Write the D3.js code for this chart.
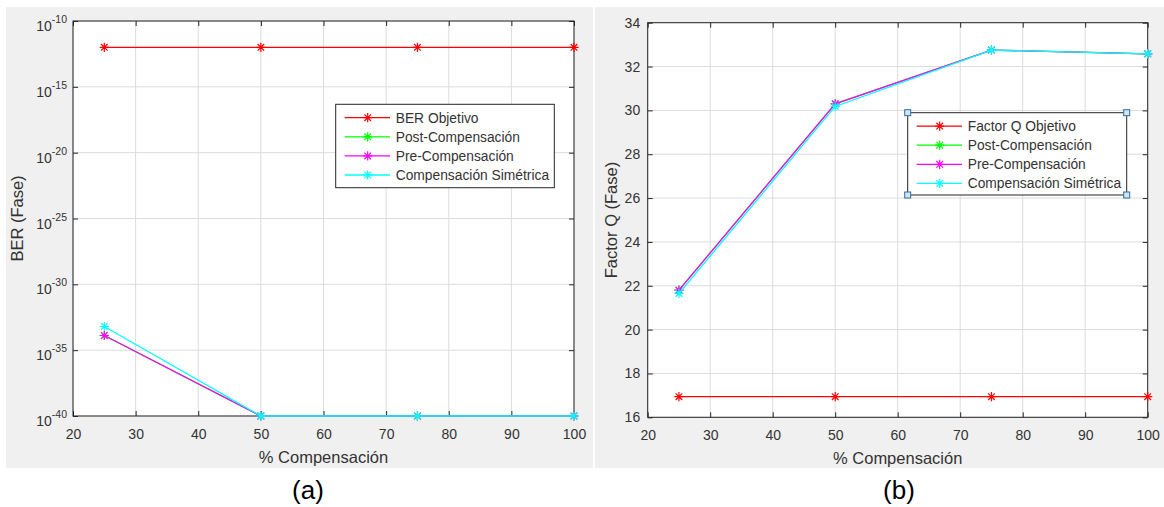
<!DOCTYPE html>
<html>
<head>
<meta charset="utf-8">
<script src="https://cdn.jsdelivr.net/npm/d3@7"></script>
<style>
  body { margin: 0; background: #fff; }
  text { font-family: "Liberation Sans", Arial, Helvetica, sans-serif; }
</style>
</head>
<body>
<svg id="fig" width="1164" height="507"></svg>
<script>
// ---- data ----
const compensacion = [25, 50, 75, 100];

const berObjetivo  = [1e-12, 1e-12, 1e-12, 1e-12];
const berPost      = [1.3e-34, 1e-40, 1e-40, 1e-40];
const berPre       = [1.3e-34, 1e-40, 1e-40, 1e-40];
const berSimetrica = [6.3e-34, 1e-40, 1e-40, 1e-40];

const qObjetivo  = [16.94, 16.94, 16.94, 16.94];
const qPost      = [21.8, 30.3, 32.75, 32.58];
const qPre       = [21.8, 30.3, 32.75, 32.58];
const qSimetrica = [21.65, 30.18, 32.75, 32.58];

const xTicks   = [20, 30, 40, 50, 60, 70, 80, 90, 100];
const berTicks = [1e-40, 1e-35, 1e-30, 1e-25, 1e-20, 1e-15, 1e-10];
const qTicks   = [16, 18, 20, 22, 24, 26, 28, 30, 32, 34];

const berLegend = ["BER Objetivo", "Post-Compensación", "Pre-Compensación", "Compensación Simétrica"];
const qLegend   = ["Factor Q Objetivo", "Post-Compensación", "Pre-Compensación", "Compensación Simétrica"];
const seriesColors = ["#ff0000", "#00ff00", "#ff00ff", "#00ffff"];

const xLabel = "% Compensación";
const berLabel = "BER (Fase)";
const qLabel = "Factor Q (Fase)";

// ---- drawing ----
const svg = d3.select("#fig");
const AXIS = "#262626", GRID = "#dcdcdc", TEXT = "#333333";

// figure backgrounds
svg.append("rect").attr("x", 6).attr("y", 7).attr("width", 587).attr("height", 461).attr("fill", "#f0f0f0");
svg.append("rect").attr("x", 595).attr("y", 7).attr("width", 569).attr("height", 461).attr("fill", "#f0f0f0");

function asterisk(r) {
  const k = r * 0.72;
  return `M${-r},0H${r}M0,${-r}V${r}M${-k},${-k}L${k},${k}M${-k},${k}L${k},${-k}`;
}

function drawPanel(opt) {
  const { x, y, yTicks, series, logY } = opt;
  const [x0, x1] = x.range();
  const [yb, yt] = y.range();
  const g = svg.append("g");

  g.append("rect").attr("x", x0).attr("y", yt).attr("width", x1 - x0).attr("height", yb - yt).attr("fill", "#fff");

  // grid
  g.append("g").selectAll("line").data(xTicks).join("line")
    .attr("x1", d => x(d)).attr("x2", d => x(d)).attr("y1", yt).attr("y2", yb)
    .attr("stroke", GRID).attr("stroke-width", 1);
  g.append("g").selectAll("line").data(yTicks).join("line")
    .attr("x1", x0).attr("x2", x1).attr("y1", d => y(d)).attr("y2", d => y(d))
    .attr("stroke", GRID).attr("stroke-width", 1);

  // axes with inward ticks on all four sides
  g.append("g").attr("transform", `translate(0,${yb})`)
    .call(d3.axisBottom(x).tickValues(xTicks).tickSize(-5).tickSizeOuter(0).tickPadding(13).tickFormat(d3.format("d")));
  g.append("g").attr("transform", `translate(0,${yt})`)
    .call(d3.axisTop(x).tickValues(xTicks).tickSize(-5).tickSizeOuter(0).tickFormat(""));
  g.append("g").attr("transform", `translate(${x0},0)`)
    .call(d3.axisLeft(y).tickValues(yTicks).tickSize(-5).tickSizeOuter(0).tickPadding(7.5)
      .tickFormat(logY ? "" : d3.format("d")));
  g.append("g").attr("transform", `translate(${x1},0)`)
    .call(d3.axisRight(y).tickValues(yTicks).tickSize(-5).tickSizeOuter(0).tickFormat(""));

  g.selectAll(".domain").remove();
  g.selectAll(".tick line").attr("stroke", AXIS);
  g.selectAll(".tick text").attr("fill", TEXT).style("font-size", "14px")
    .style("font-family", '"Liberation Sans", Arial, sans-serif');

  if (logY) {
    // 10^n labels with superscript exponent
    const lab = g.append("g").selectAll("text").data(yTicks).join("text")
      .attr("x", x0 - 6).attr("y", d => y(d) + 10)
      .attr("text-anchor", "end").attr("fill", TEXT).style("font-size", "14px");
    lab.append("tspan").text("10");
    lab.append("tspan").attr("dy", -8).style("font-size", "10.5px")
      .text(d => String(Math.round(Math.log10(d))));
  }

  g.append("rect").attr("x", x0).attr("y", yt).attr("width", x1 - x0).attr("height", yb - yt)
    .attr("fill", "none").attr("stroke", AXIS).attr("stroke-width", 1);

  // series
  const line = d3.line().x((d, i) => x(compensacion[i])).y(d => y(d));
  series.forEach((vals, si) => {
    const c = seriesColors[si];
    g.append("path").datum(vals).attr("d", line)
      .attr("fill", "none").attr("stroke", c).attr("stroke-width", 1.3);
    g.append("g").selectAll("path").data(vals).join("path")
      .attr("transform", (d, i) => `translate(${x(compensacion[i])},${y(d)})`)
      .attr("d", asterisk(4.6)).attr("stroke", c).attr("stroke-width", 1.2).attr("fill", "none");
  });

  // axis titles
  g.append("text").attr("x", (x0 + x1) / 2).attr("y", yb + 46.5).attr("text-anchor", "middle")
    .attr("fill", TEXT).style("font-size", "16.5px").text(xLabel);
  g.append("text").attr("transform", `translate(${opt.yLabelX},${(yb + yt) / 2}) rotate(-90)`)
    .attr("text-anchor", "middle").attr("fill", TEXT).style("font-size", "16.5px").text(opt.yLabel);

  // legend
  const L = opt.legend;
  const lg = g.append("g").attr("transform", `translate(${L.x},${L.y})`);
  lg.append("rect").attr("width", L.w).attr("height", L.h).attr("fill", "#fff")
    .attr("stroke", AXIS).attr("stroke-width", 1);
  L.labels.forEach((t, i) => {
    const ry = 13.4 + i * 19.1;
    const c = seriesColors[i];
    lg.append("line").attr("x1", 9).attr("x2", 54.3).attr("y1", ry).attr("y2", ry)
      .attr("stroke", c).attr("stroke-width", 1.3);
    lg.append("path").attr("transform", `translate(32,${ry})`).attr("d", asterisk(4.6))
      .attr("stroke", c).attr("stroke-width", 1.2).attr("fill", "none");
    lg.append("text").attr("x", 60).attr("y", ry).attr("dy", "0.35em")
      .attr("fill", TEXT).style("font-size", "13.8px").text(t);
  });
  if (L.handles) {
    [[0, 0], [L.w, 0], [0, L.h], [L.w, L.h]].forEach(([hx, hy]) => {
      lg.append("rect").attr("x", hx - 3).attr("y", hy - 3).attr("width", 6).attr("height", 6)
        .attr("fill", "#d6e4f0").attr("stroke", "#2a6ea6").attr("stroke-width", 1);
    });
  }

  // panel caption
  svg.append("text").attr("x", opt.caption.x).attr("y", 499).attr("text-anchor", "middle")
    .attr("fill", "#000").style("font-size", "26px").text(opt.caption.text);
}

drawPanel({
  x: d3.scaleLinear().domain([20, 100]).range([73, 574]),
  y: d3.scaleLog().domain([1e-40, 1e-10]).range([416, 21]),
  yTicks: berTicks,
  logY: true,
  series: [berObjetivo, berPost, berPre, berSimetrica],
  yLabel: berLabel, yLabelX: 22.5,
  legend: { x: 335.7, y: 104.3, w: 218.6, h: 83.4, labels: berLegend, handles: false },
  caption: { x: 308, text: "(a)" }
});

drawPanel({
  x: d3.scaleLinear().domain([20, 100]).range([647.7, 1147.7]),
  y: d3.scaleLinear().domain([16, 34]).range([417.3, 22.7]),
  yTicks: qTicks,
  logY: false,
  series: [qObjetivo, qPost, qPre, qSimetrica],
  yLabel: qLabel, yLabelX: 616.5,
  legend: { x: 907.7, y: 112.7, w: 219, h: 82.3, labels: qLegend, handles: true },
  caption: { x: 899, text: "(b)" }
});
</script>
</body>
</html>
